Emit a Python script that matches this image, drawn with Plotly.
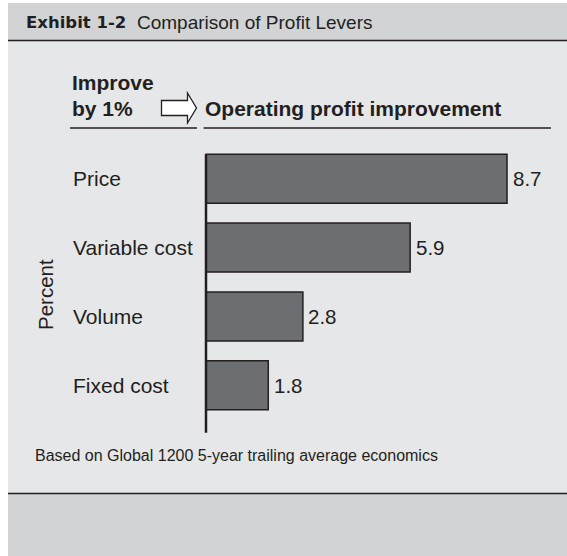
import plotly.graph_objects as go

# ---- data ----
categories = ["Price", "Variable cost", "Volume", "Fixed cost"]
values = [8.7, 5.9, 2.8, 1.8]
title_bold = "Exhibit 1-2"
title_text = "Comparison of Profit Levers"
lever_header = ["Improve", "by 1%"]
result_header = "Operating profit improvement"
axis_title = "Percent"
footnote = "Based on Global 1200 5-year trailing average economics"

# ---- geometry helpers (pixel -> paper) ----
W, H = 567, 556
def px(x):
    return x / W
def py(y):
    return 1 - y / H

X0_PX, UNIT = 206, 34.6          # x=0 at 206px, px per unit
ROW0, ROW = 178.8, 68.8          # centre of first category, row pitch
x_range = [-X0_PX / UNIT, (W - X0_PX) / UNIT]
y_range = [(H - ROW0) / ROW, -ROW0 / ROW]

DARK = "#231f20"
BAR = "#6d6e71"
HEAD_BG = "#d1d3d4"
BODY_BG = "#e6e7e8"
FONT = "Liberation Sans, Arial, Helvetica, sans-serif"

fig = go.Figure()
fig.add_trace(go.Bar(
    x=values, y=categories, orientation="h",
    width=0.712,
    marker=dict(color=BAR, line=dict(color=DARK, width=1.5)),
    cliponaxis=False,
    hoverinfo="skip",
))

shapes = [
    # header band
    dict(type="rect", xref="paper", yref="paper", x0=px(8), x1=1, y0=py(40), y1=py(3),
         fillcolor=HEAD_BG, line_width=0, layer="below"),
    # body
    dict(type="rect", xref="paper", yref="paper", x0=px(8), x1=1, y0=py(493.5), y1=py(40),
         fillcolor=BODY_BG, line_width=0, layer="below"),
    # bottom band
    dict(type="rect", xref="paper", yref="paper", x0=px(8), x1=1, y0=0, y1=py(493.5),
         fillcolor=HEAD_BG, line_width=0, layer="below"),
    # separator lines
    dict(type="line", xref="paper", yref="paper", x0=px(8), x1=1, y0=py(40.5), y1=py(40.5),
         line=dict(color=DARK, width=1.5)),
    dict(type="line", xref="paper", yref="paper", x0=px(8), x1=1, y0=py(493.5), y1=py(493.5),
         line=dict(color=DARK, width=1.5)),
    # header underlines
    dict(type="line", xref="paper", yref="paper", x0=px(70), x1=px(197), y0=py(128), y1=py(128),
         line=dict(color=DARK, width=1.5)),
    dict(type="line", xref="paper", yref="paper", x0=px(203.6), x1=px(551), y0=py(128), y1=py(128),
         line=dict(color=DARK, width=1.5)),
    # value axis line
    dict(type="line", xref="x", yref="y", x0=0, x1=0, y0=-0.356, y1=3.69,
         line=dict(color=DARK, width=2.5)),
]

# block arrow
ax = [161.5, 187.5, 187.5, 196.5, 187.5, 187.5, 161.5]
ay = [100.5, 100.5, 93, 108, 123, 115.5, 115.5]
path = "M " + " L ".join(f"{px(a)},{py(b)}" for a, b in zip(ax, ay)) + " Z"
shapes.append(dict(type="path", xref="paper", yref="paper", path=path,
                   fillcolor="white", line=dict(color=DARK, width=1.3)))

annotations = []
def label(text, x, y, size, bold=False, family=FONT, **kw):
    t = f"<b>{text}</b>" if bold else text
    d = dict(text=t, x=px(x), y=py(y), xref="paper", yref="paper",
             xanchor="left", yanchor="middle", showarrow=False,
             font=dict(size=size, color=DARK, family=family))
    d.update(kw)
    annotations.append(d)

label(title_bold, 24, 23, 16.5, bold=True, family="DejaVu Sans, Arial, sans-serif")
label(title_text, 135, 23, 19)
label(lever_header[0], 70, 82.5, 21, bold=True)
label(lever_header[1], 70, 108.5, 21, bold=True)
label(result_header, 203, 108.5, 21, bold=True)
label(footnote, 33, 455.5, 16)
annotations.append(dict(text=axis_title, x=px(45), y=py(295), xref="paper", yref="paper",
                        xanchor="center", yanchor="middle", showarrow=False, textangle=-90,
                        font=dict(size=20.5, color=DARK, family=FONT)))
for c in categories:
    annotations.append(dict(text=c, x=px(71), xref="paper", y=c, yref="y",
                            xanchor="left", yanchor="middle", showarrow=False,
                            font=dict(size=21, color=DARK, family=FONT)))
# value labels, positioned through the data axes
for c, v in zip(categories, values):
    annotations.append(dict(text=f"{v:.1f}", x=v, xref="x", y=c, yref="y",
                            xanchor="left", yanchor="middle", xshift=3.5, showarrow=False,
                            font=dict(size=20.5, color=DARK, family=FONT)))

fig.update_layout(
    width=W, height=H,
    margin=dict(l=0, r=0, t=0, b=0),
    paper_bgcolor="white", plot_bgcolor="rgba(0,0,0,0)",
    showlegend=False,
    xaxis=dict(range=x_range, visible=False, fixedrange=True),
    yaxis=dict(type="category", categoryorder="array", categoryarray=categories,
               range=y_range, visible=False, fixedrange=True),
    shapes=shapes, annotations=annotations,
    font=dict(family=FONT, color=DARK),
)

fig.write_html(
    "out.html",
    config={"displayModeBar": False},
    post_script="document.body.style.margin='0px';document.body.style.overflow='hidden';",
)
